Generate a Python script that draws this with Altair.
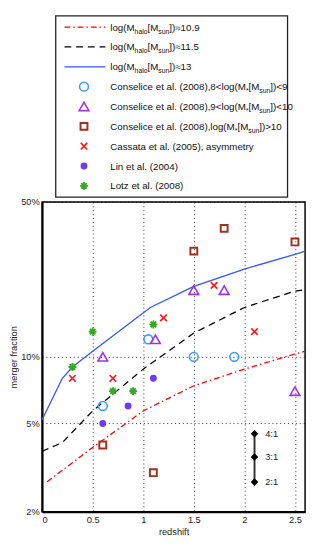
import altair as alt
import pandas as pd

# ---------------- data ----------------
# model curves: merger fraction vs redshift for three halo masses
z_m109 = [0.05, 0.5, 1.0, 1.5, 2.0, 2.5, 2.6]
f_m109 = [0.0273, 0.039, 0.057, 0.074, 0.088, 0.103, 0.106]
z_m115 = [0.0, 0.2, 0.5, 1.0, 1.5, 2.0, 2.5, 2.6]
f_m115 = [0.0375, 0.041, 0.057, 0.088, 0.128, 0.167, 0.198, 0.201]
z_m13 = [0.0, 0.2, 0.3, 0.5, 1.07, 1.5, 2.0, 2.5, 2.6]
f_m13 = [0.052, 0.080, 0.090, 0.106, 0.167, 0.208, 0.249, 0.290, 0.300]

# observations
z_c89 = [0.6, 1.05, 1.5, 1.9]
f_c89 = [0.06, 0.12, 0.10, 0.10]
z_c910 = [0.6, 1.12, 1.5, 1.8, 2.5]
f_c910 = [0.10, 0.12, 0.20, 0.20, 0.07]
z_c10 = [0.6, 1.1, 1.5, 1.8, 2.5]
f_c10 = [0.04, 0.03, 0.30, 0.38, 0.33]
z_cas = [0.3, 0.7, 1.2, 1.7, 2.1]
f_cas = [0.08, 0.08, 0.15, 0.21, 0.13]
z_lin = [0.6, 0.85, 1.1]
f_lin = [0.05, 0.06, 0.08]
z_lotz = [0.3, 0.5, 0.7, 0.9, 1.1]
f_lotz = [0.09, 0.13, 0.07, 0.07, 0.14]

# mass-ratio scale bar
ratio_z = [2.1, 2.1, 2.1]
ratio_f = [0.045, 0.0353, 0.0272]
ratio_labels = ["4:1", "3:1", "2:1"]

x_ticks = [0, 0.5, 1, 1.5, 2, 2.5]
y_ticks = [0.02, 0.05, 0.1, 0.5]

legend_texts = [
    [("log(M", 0), ("halo", 1), ("[M", 0), ("sun", 1), ("])\u224810.9", 0)],
    [("log(M", 0), ("halo", 1), ("[M", 0), ("sun", 1), ("])\u224811.5", 0)],
    [("log(M", 0), ("halo", 1), ("[M", 0), ("sun", 1), ("])\u224813", 0)],
    [("Conselice et al. (2008),8<log(M", 0), ("*", 1), ("[M", 0), ("sun", 1), ("])<9", 0)],
    [("Conselice et al. (2008),9<log(M", 0), ("*", 1), ("[M", 0), ("sun", 1), ("])<10", 0)],
    [("Conselice et al. (2008),log(M", 0), ("*", 1), ("[M", 0), ("sun", 1), ("])>10", 0)],
    [("Cassata et al. (2005), asymmetry", 0)],
    [("Lin et al. (2004)", 0)],
    [("Lotz et al. (2008)", 0)],
]

# ---------------- styling ----------------
W, H = 270, 318
FONT = "Liberation Sans"
RED, BLACK, BLUE = "#ff0000", "#000000", "#3355ff"
C_CIRC, C_TRI, C_SQ = "#3d9cf0", "#a030f0", "#a0301f"
C_CROSS, C_LIN, C_LOTZ = "#ff1a1a", "#6a3cf5", "#33aa22"
DASHDOT = [6, 3, 1.5, 3]
DASH = [7, 5]
CROSS_PATH = "M-1,-1L1,1M-1,1L1,-1"
STAR_PATH = "M-1,0L1,0M0,-1L0,1M-0.7,-0.7L0.7,0.7M-0.7,0.7L0.7,-0.7"

xs = alt.Scale(domain=[0, 2.6], nice=False, zero=False)
ys = alt.Scale(type="log", domain=[0.02, 0.5], nice=False)
x_axis = alt.Axis(values=x_ticks, format="~g", title="redshift", grid=True, ticks=False,
                  labelPadding=3, titlePadding=3)
y_axis = alt.Axis(values=y_ticks, format=".0%", title="merger fraction", grid=True, ticks=False,
                  labelPadding=3, titlePadding=2)


def X():
    return alt.X("z:Q", scale=xs, axis=x_axis)


def Y():
    return alt.Y("f:Q", scale=ys, axis=y_axis)


def line(z, f, color, dash=None):
    df = pd.DataFrame({"z": z, "f": f})
    kw = dict(color=color, strokeWidth=1.3)
    if dash:
        kw["strokeDash"] = dash
    return alt.Chart(df).mark_line(**kw).encode(x=X(), y=Y())


def pts(z, f, shape, color, size, filled=False, sw=1.6):
    df = pd.DataFrame({"z": z, "f": f})
    return alt.Chart(df).mark_point(shape=shape, color=color, size=size, filled=filled,
                                    strokeWidth=sw, opacity=1).encode(x=X(), y=Y())


S_CIRC, S_TRI, S_SQ, S_CROSS, S_LIN, S_STAR = 82, 100, 50, 45, 50, 66

main_layers = [
    line(z_m109, f_m109, RED, DASHDOT),
    line(z_m115, f_m115, BLACK, DASH),
    line(z_m13, f_m13, BLUE),
    pts(z_c89, f_c89, "circle", C_CIRC, S_CIRC),
    pts(z_c910, f_c910, "triangle-up", C_TRI, S_TRI),
    pts(z_c10, f_c10, "square", C_SQ, S_SQ, sw=2),
    pts(z_cas, f_cas, CROSS_PATH, C_CROSS, S_CROSS, sw=1.7),
    pts(z_lin, f_lin, "circle", C_LIN, S_LIN, filled=True),
    pts(z_lotz, f_lotz, STAR_PATH, C_LOTZ, S_STAR, sw=1.9),
]

ratio_df = pd.DataFrame({"z": ratio_z, "f": ratio_f, "lab": ratio_labels})
bar_df = pd.DataFrame({"z": [ratio_z[0]], "f": [min(ratio_f)], "f2": [max(ratio_f)]})
main_layers += [
    alt.Chart(bar_df).mark_rule(color="#333333", strokeWidth=2).encode(x=X(), y=Y(), y2="f2:Q"),
    alt.Chart(ratio_df).mark_point(shape="diamond", filled=True, color="black", size=60,
                                   opacity=1).encode(x=X(), y=Y()),
    alt.Chart(ratio_df).mark_text(align="left", dx=11, font=FONT, fontSize=9.5,
                                  color="#222222").encode(x=X(), y=Y(), text="lab:N"),
]
main = alt.layer(*main_layers)

# ---------------- hand-drawn legend above the plot ----------------
ARIAL = {' ': 278, '(': 333, ')': 333, '*': 389, ',': 278, '.': 278, '<': 584, '>': 584,
         '=': 584, '\u2248': 584, '[': 278, ']': 278, ':': 278, 'C': 722, 'L': 556, 'M': 833,
         'a': 556, 'c': 500, 'e': 556, 'g': 556, 'h': 556, 'i': 222, 'l': 222, 'm': 833,
         'n': 556, 'o': 556, 'r': 333, 's': 500, 't': 278, 'u': 556, 'y': 500, 'z': 500}


def tw(s, fs):
    return sum(ARIAL.get(ch, 556) for ch in s) * fs / 1000.0


BX0, BX1, BY0, BY1 = 14, 252, -191, -5
FS_MAIN, FS_SUB = 10, 7
step = (BY1 - BY0 - 23) / 8.0
entry_y = [BY0 + 11.5 + i * step for i in range(9)]
SYM_X, LN_X0, LN_X1, TXT_X = 43, 23, 65, 70

rows = []
for i, segs in enumerate(legend_texts):
    x = TXT_X
    for s, sub in segs:
        fs = FS_SUB if sub else FS_MAIN
        rows.append({"px": x, "py": entry_y[i] + 3.6 + (3.0 if sub else 0), "txt": s, "fs": fs})
        x += tw(s, fs)
txt_df = pd.DataFrame(rows)

box = alt.Chart(pd.DataFrame({"a": [0]})).mark_rect(fill="white", stroke="#222222",
                                                     strokeWidth=1.3).encode(
    x=alt.value(BX0), x2=alt.value(BX1), y=alt.value(BY0), y2=alt.value(BY1))


def leg_line(i, color, dash=None):
    kw = dict(color=color, strokeWidth=1.3)
    if dash:
        kw["strokeDash"] = dash
    return alt.Chart(pd.DataFrame({"a": [0]})).mark_rule(**kw).encode(
        x=alt.value(LN_X0), x2=alt.value(LN_X1), y=alt.value(entry_y[i]))


def leg_sym(i, shape, color, size, filled=False, sw=1.6):
    return alt.Chart(pd.DataFrame({"a": [0]})).mark_point(
        shape=shape, color=color, size=size, filled=filled, strokeWidth=sw, opacity=1).encode(
        x=alt.value(SYM_X), y=alt.value(entry_y[i]))


legend_layers = [
    box,
    leg_line(0, RED, DASHDOT), leg_line(1, BLACK, DASH), leg_line(2, BLUE),
    leg_sym(3, "circle", C_CIRC, S_CIRC), leg_sym(4, "triangle-up", C_TRI, S_TRI),
    leg_sym(5, "square", C_SQ, S_SQ, sw=2), leg_sym(6, CROSS_PATH, C_CROSS, S_CROSS, sw=1.7),
    leg_sym(7, "circle", C_LIN, S_LIN, filled=True), leg_sym(8, STAR_PATH, C_LOTZ, S_STAR, sw=1.9),
    alt.Chart(txt_df).mark_text(align="left", baseline="alphabetic", font=FONT,
                                color="#111111").encode(
        x=alt.X("px:Q", scale=None, axis=None),
        y=alt.Y("py:Q", scale=None, axis=None),
        text="txt:N",
        size=alt.Size("fs:Q", scale=None, legend=None)),
]
legend = alt.layer(*legend_layers)

chart = (
    alt.layer(main, legend)
    .resolve_scale(x="independent", y="independent", size="independent")
    .properties(width=W, height=H, padding=0)
    .configure_view(stroke="black", strokeWidth=1.5)
    .configure_axis(labelFont=FONT, labelFontSize=9.5, labelColor="#222222",
                    titleFont=FONT, titleFontSize=9.5, titleFontWeight="normal",
                    titleColor="#222222", domainColor="black", domainWidth=2,
                    gridColor="black", gridDash=[1, 3], gridWidth=1, gridOpacity=0.8)
)

chart.save("out.html", embed_options={"renderer": "svg", "actions": False})
